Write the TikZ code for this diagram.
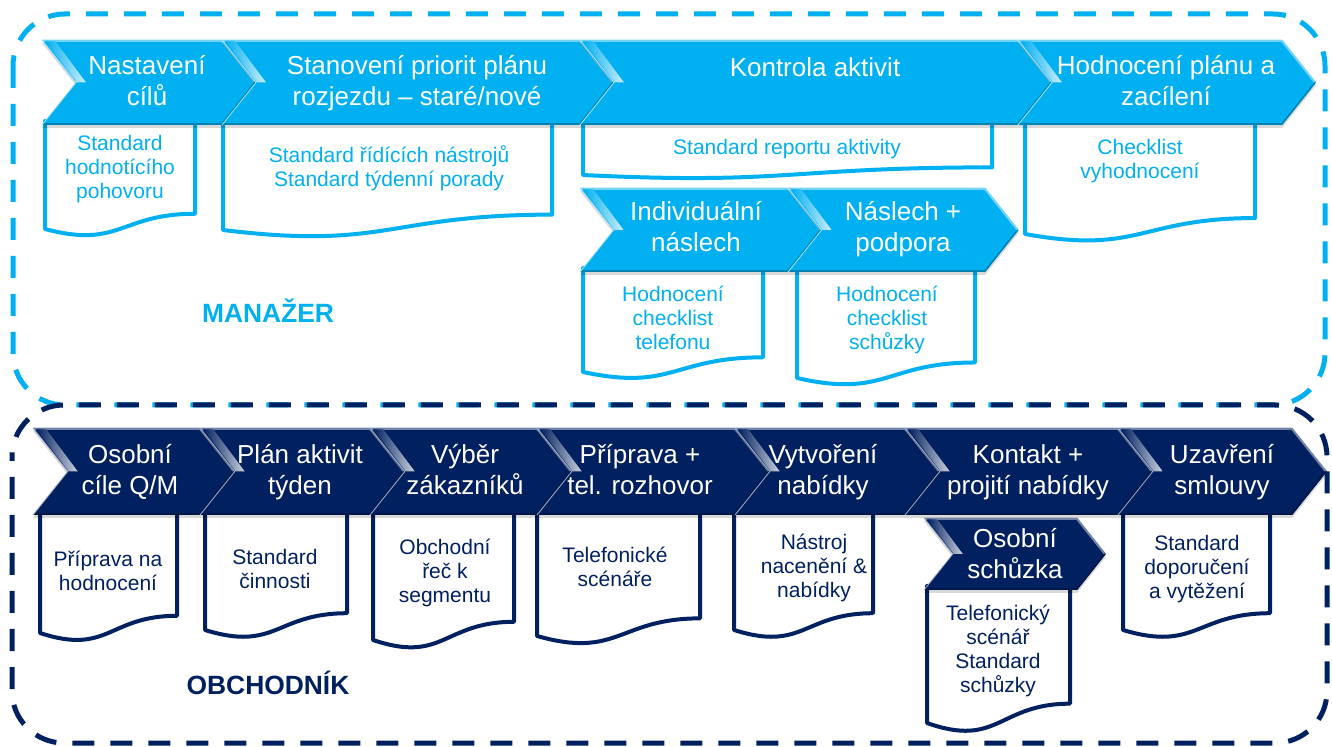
\documentclass[tikz,border=0pt]{standalone}
\usepackage{fontspec}
\setmainfont{Liberation Sans}

\definecolor{mancyan}{RGB}{0,176,240}
\definecolor{mannavy}{RGB}{0,32,96}

\tikzset{
  chevtext/.style={text=white, align=center, font=\fontsize{13}{15.5}\selectfont,
    execute at begin node=\strut, execute at end node=\strut, yshift=-1.5pt},
  doctext/.style={text=#1, align=center, font=\fontsize{10.5}{12}\selectfont,
    execute at begin node=\strut, execute at end node=\strut, yshift=-1.2pt},
  docline/.style={draw=#1, line width=2pt, fill=white, line join=round},
  frameline/.style={draw=#1, line width=2.5pt, dash pattern=on 11pt off 8pt, rounded corners=26pt},
  rolelabel/.style={text=#1, font=\fontsize{13.2}{15}\selectfont\bfseries}
}

% sipka: barva, levy okraj, pravy okraj, horni, dolni
\newcommand\chev[5]{%
  \pgfmathsetmacro\chvmid{(#4+#5)/2}%
  \pgfmathsetmacro\chvdep{0.4*(#5-#4)}%
  \pgfmathsetmacro\chvtip{#3+\chvdep}%
  \pgfmathsetmacro\chvnot{#2+\chvdep}%
  \fill[black, opacity=.15] (#2,#4+3) -- (#3,#4+3) -- (\chvtip,\chvmid+3) -- (#3,#5+3)
    -- (#2,#5+3) -- (\chvnot,\chvmid+3) -- cycle;
  \fill[#1] (#2,#4) -- (#3,#4) -- (\chvtip,\chvmid) -- (#3,#5) -- (#2,#5) -- (\chvnot,\chvmid) -- cycle;
  \draw[#1!55!white, line width=1pt] (#2+1,#4+1) -- (#3,#4+1) -- (\chvtip-1,\chvmid);
  \draw[#1!75!black, line width=.8pt] (\chvtip-1,\chvmid) -- (#3,#5-1) -- (#2+1,#5-1);
  \shade[left color=#1, right color=white, opacity=.8]
    (#2+3,#4+1) -- (#2+13,#4+1) -- (\chvnot+10,\chvmid) -- (\chvnot+1,\chvmid) -- cycle;
  \draw[white!65!#1, line width=.4pt] (#2,#4) -- (\chvnot,\chvmid) -- (#2,#5);
}

% dokument s vlnitym spodkem: barva, levy, pravy, horni, dolni (vlevo)
\newcommand\docbox[5]{%
  \pgfmathsetmacro\docrgt{#4+0.859*(#5-#4)}%
  \pgfmathsetmacro\docdip{#4+1.185*(#5-#4)}%
  \pgfmathsetmacro\docmid{(#2+#3)/2}%
  \draw[docline=#1] (#2,#4) -- (#3,#4) -- (#3,\docrgt)
    .. controls (\docmid,\docrgt) and (\docmid,\docdip) .. (#2,#5) -- cycle;
}

\begin{document}
\begin{tikzpicture}[x=0.5pt, y=-0.5pt]
  \useasboundingbox (0,0) rectangle (1332,747);

  % ramecky roli
  \draw[frameline=mancyan] (13,14) rectangle (1325,405);
  \draw[frameline=mannavy, dash phase=9pt] (12,405) rectangle (1327,743);

  \node[rolelabel=mancyan] (manazer) at (268,311) {MANAŽER};
  \node[rolelabel=mannavy] (obchodnik) at (268,683) {OBCHODNÍK};

  % dokumenty - manazer
  \foreach \l/\r/\b in {45/195/229, 223/552/230, 583/992/175, 1025/1255/234}
    {\docbox{mancyan}{\l}{\r}{121}{\b}}
  \foreach \l/\r/\b in {583/763/372, 797/975/378}
    {\docbox{mancyan}{\l}{\r}{268}{\b}}

  % dokumenty - obchodnik
  \foreach \l/\r/\b in {40/177/633, 205/347/630, 373/514/640, 537/700/636, 734/873/630, 1123/1270/630}
    {\docbox{mannavy}{\l}{\r}{511}{\b}}
  \docbox{mannavy}{927}{1070}{586}{723}

  % sipky - manazer
  \foreach \l/\r in {42/222, 222/580, 580/1018, 1018/1282}
    {\chev{mancyan}{\l}{\r}{40}{125}}
  \foreach \l/\r in {580/788, 788/985}
    {\chev{mancyan}{\l}{\r}{188}{272}}

  % sipky - obchodnik
  \foreach \l/\r in {33/200, 200/370, 370/537, 537/735, 735/905, 905/1118, 1118/1292}
    {\chev{mannavy}{\l}{\r}{428}{515}}
  \chev{mannavy}{924}{1077}{518}{590}

  % popisky sipek
  \node[chevtext] (nastaveni) at (147,82) {Nastavení\\cílů};
  \node[chevtext] (stanoveni) at (417,82) {Stanovení priorit plánu\\rozjezdu – staré/nové};
  \node[chevtext] (kontrola) at (815,67) {Kontrola aktivit};
  \node[chevtext] (hodnoceni) at (1166,82) {Hodnocení plánu a\\zacílení};
  \node[chevtext] (individ) at (696,228) {Individuální\\náslech};
  \node[chevtext] (naslech) at (903,228) {Náslech +\\podpora};

  \node[chevtext] (osobni) at (130,471) {Osobní\\cíle Q/M};
  \node[chevtext] (plan) at (300,471) {Plán aktivit\\týden};
  \node[chevtext] (vyber) at (465,471) {Výběr\\zákazníků};
  \node[chevtext] (priprava) at (640,471) {Příprava +\\tel. rozhovor};
  \node[chevtext] (vytvoreni) at (823,471) {Vytvoření\\nabídky};
  \node[chevtext] (kontakt) at (1028,471) {Kontakt +\\projití nabídky};
  \node[chevtext] (uzavreni) at (1222,471) {Uzavření\\smlouvy};
  \node[chevtext] (schuzka) at (1015,555) {Osobní\\schůzka};

  % popisky dokumentu
  \node[doctext=mancyan] (dNastaveni) at (120,168) {Standard\\hodnotícího\\pohovoru};
  \node[doctext=mancyan] (dStanoveni) at (389,167) {Standard řídících nástrojů\\Standard týdenní porady};
  \node[doctext=mancyan] (dKontrola) at (787,147) {Standard reportu aktivity};
  \node[doctext=mancyan] (dHodnoceni) at (1140,160) {Checklist\\vyhodnocení};
  \node[doctext=mancyan] (dIndivid) at (673,319) {Hodnocení\\checklist\\telefonu};
  \node[doctext=mancyan] (dNaslech) at (887,319) {Hodnocení\\checklist\\schůzky};

  \node[doctext=mannavy] (dOsobni) at (108,572) {Příprava na\\hodnocení};
  \node[doctext=mannavy] (dPlan) at (275,570) {Standard\\činnosti};
  \node[doctext=mannavy] (dVyber) at (445,572) {Obchodní\\řeč k\\segmentu};
  \node[doctext=mannavy] (dPriprava) at (615,568) {Telefonické\\scénáře};
  \node[doctext=mannavy] (dVytvoreni) at (814,567) {Nástroj\\nacenění \&\\nabídky};
  \node[doctext=mannavy] (dSchuzka) at (998,650) {Telefonický\\scénář\\Standard\\schůzky};
  \node[doctext=mannavy] (dUzavreni) at (1197,568) {Standard\\doporučení\\a vytěžení};
\end{tikzpicture}
\end{document}
